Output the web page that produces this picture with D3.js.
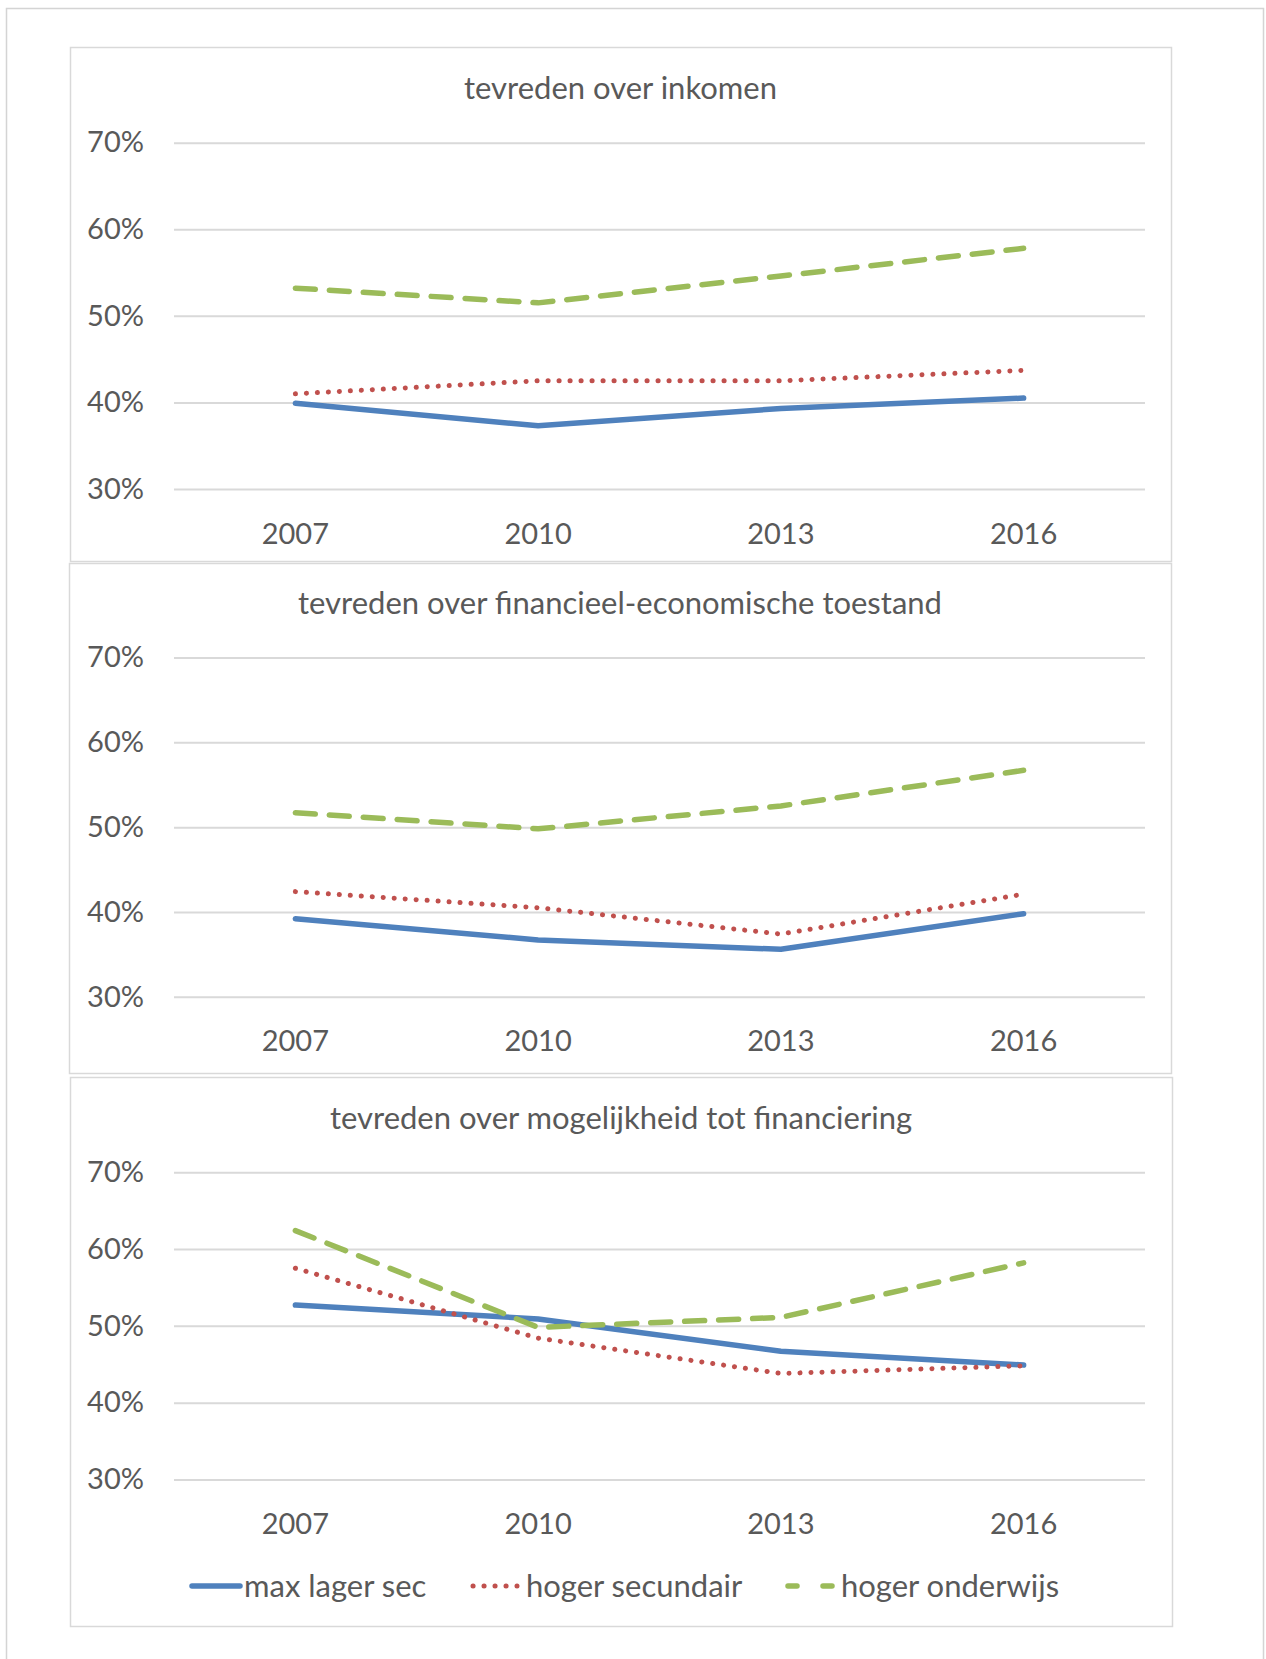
<html>
<head>
<meta charset="utf-8">
<title>tevredenheid</title>
<style>
  body { margin: 0; background: #fff; }
  svg { display: block; font-family: Lato, "Open Sans", sans-serif; }
  .tick text { fill: #595959; }
</style>
<script src="https://cdnjs.cloudflare.com/ajax/libs/d3/7.8.5/d3.min.js"></script>
</head>
<body>
<svg></svg>
<script>
// data
const years = ['2007', '2010', '2013', '2016'];
const seriesNames = ['max lager sec', 'hoger secundair', 'hoger onderwijs'];
const titles = [
  'tevreden over inkomen',
  'tevreden over financieel-economische toestand',
  'tevreden over mogelijkheid tot financiering'
];
const yTicks = [0.3, 0.4, 0.5, 0.6, 0.7];

const inkomenLager = [0.399, 0.373, 0.393, 0.405];
const inkomenSecundair = [0.410, 0.425, 0.425, 0.437];
const inkomenHoger = [0.532, 0.515, 0.546, 0.578];

const toestandLager = [0.392, 0.367, 0.356, 0.398];
const toestandSecundair = [0.424, 0.405, 0.374, 0.421];
const toestandHoger = [0.517, 0.498, 0.525, 0.567];

const financieringLager = [0.527, 0.509, 0.467, 0.449];
const financieringSecundair = [0.575, 0.484, 0.438, 0.448];
const financieringHoger = [0.624, 0.498, 0.511, 0.582];

const panelData = [
  [inkomenLager, inkomenSecundair, inkomenHoger],
  [toestandLager, toestandSecundair, toestandHoger],
  [financieringLager, financieringSecundair, financieringHoger]
];

// layout
const W = 1266, H = 1659;
const plotLeft = 174, plotRight = 1145;
const panels = [
  { x0: 70, y0: 47, x1: 1171, y1: 561, top: 142.7, bottom: 489, titleY: 88 },
  { x0: 69, y0: 563, x1: 1171, y1: 1073, top: 657.5, bottom: 996.8, titleY: 603 },
  { x0: 70, y0: 1077, x1: 1172, y1: 1626, top: 1172.2, bottom: 1479.5, titleY: 1118 }
];
const colors = ['#4F81BD', '#C0504D', '#9BBB59'];
const widths = [5.5, 5, 5.5];
const dashes = [null, '0.1 10.9', '20 14'];
const textColor = '#595959';

const svg = d3.select('svg').attr('width', W).attr('height', H);

// page frame
svg.append('path')
  .attr('d', `M6.5,${H} V8.5 H1263.5 V${H}`)
  .attr('fill', 'none')
  .attr('stroke', '#d4d4d4')
  .attr('stroke-width', 1.5);

const x = d3.scaleBand().domain(years).range([plotLeft, plotRight]).padding(0);

panels.forEach((p, i) => {
  const g = svg.append('g');

  g.append('rect')
    .attr('x', p.x0 + 0.5).attr('y', p.y0 + 0.5)
    .attr('width', p.x1 - p.x0).attr('height', p.y1 - p.y0)
    .attr('fill', '#fff')
    .attr('stroke', '#d9d9d9')
    .attr('stroke-width', 1.5);

  const y = d3.scaleLinear().domain([0.3, 0.7]).range([p.bottom, p.top]);

  // gridlines + y labels
  const ya = g.append('g')
    .attr('transform', `translate(${plotLeft},0)`)
    .call(d3.axisLeft(y).tickValues(yTicks).tickFormat(d3.format('.0%'))
      .tickSize(-(plotRight - plotLeft)).tickPadding(30));
  ya.select('.domain').remove();
  ya.selectAll('.tick line').attr('stroke', '#d9d9d9').attr('stroke-width', 2);
  ya.selectAll('.tick text').attr('font-size', 29).attr('font-family', 'Lato');

  // x labels
  const xa = g.append('g')
    .attr('transform', `translate(0,${p.bottom})`)
    .call(d3.axisBottom(x).tickSize(0).tickPadding(34));
  xa.select('.domain').remove();
  xa.selectAll('.tick text').attr('font-size', 29).attr('font-family', 'Lato');

  g.append('text')
    .attr('x', (p.x0 + p.x1) / 2)
    .attr('y', p.titleY)
    .attr('dy', '0.35em')
    .attr('text-anchor', 'middle')
    .attr('font-size', 31)
    .attr('fill', textColor)
    .text(titles[i]);

  const line = d3.line()
    .x((d, k) => x(years[k]) + x.bandwidth() / 2)
    .y(d => y(d));

  panelData[i].forEach((vals, s) => {
    g.append('path')
      .datum(vals)
      .attr('d', line)
      .attr('fill', 'none')
      .attr('stroke', colors[s])
      .attr('stroke-width', widths[s])
      .attr('stroke-linecap', 'round')
      .attr('stroke-linejoin', 'round')
      .attr('stroke-dasharray', dashes[s]);
  });
});

// legend
const legendY = 1586;
const legendItems = [
  { x0: 192, x1: 240, tx: 244 },
  { x0: 473, x1: 517, tx: 526 },
  { x0: 788, x1: 835, tx: 841 }
];
const legend = svg.append('g');
seriesNames.forEach((name, s) => {
  const it = legendItems[s];
  legend.append('line')
    .attr('x1', it.x0).attr('x2', it.x1)
    .attr('y1', legendY).attr('y2', legendY)
    .attr('stroke', colors[s])
    .attr('stroke-width', widths[s])
    .attr('stroke-linecap', 'round')
    .attr('stroke-dasharray', s === 2 ? '9 26' : dashes[s]);
  legend.append('text')
    .attr('x', it.tx).attr('y', legendY)
    .attr('dy', '0.35em')
    .attr('font-size', 31)
    .attr('fill', textColor)
    .text(name);
});
</script>
</body>
</html>
